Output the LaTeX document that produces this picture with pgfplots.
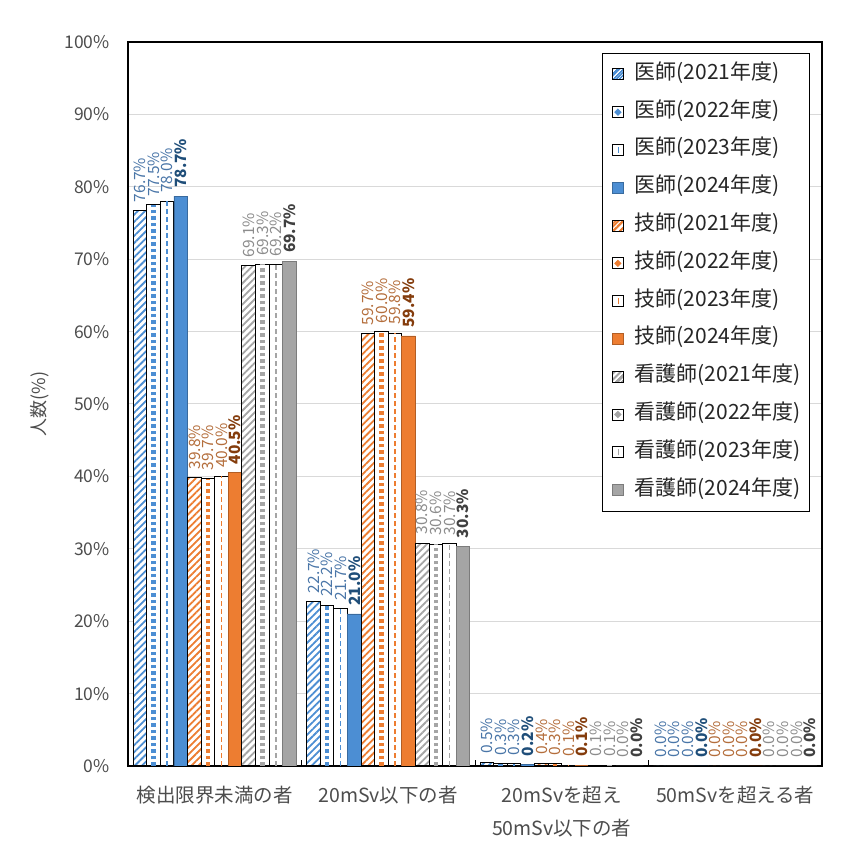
\documentclass[border=0pt]{standalone}
\usepackage{fontspec}
\setmainfont{Noto Sans CJK JP}
\usepackage{pgfplots}
\pgfplotsset{compat=1.18}
\usetikzlibrary{patterns,patterns.meta}

\definecolor{cB}{HTML}{4C8ED3}
\definecolor{cO}{HTML}{ED7D31}
\definecolor{cG}{HTML}{A5A5A5}
\definecolor{tB}{HTML}{4A76A8}
\definecolor{tBb}{HTML}{1F4E79}
\definecolor{tO}{HTML}{B46E3C}
\definecolor{tOb}{HTML}{843C0C}
\definecolor{tG}{HTML}{8C8C8C}
\definecolor{tGb}{HTML}{404040}
\definecolor{gridc}{HTML}{D9D9D9}
\definecolor{tickc}{HTML}{4D4D4D}

\newcommand\lblfont{\fontsize{15.5}{15.5}\selectfont}

\pgfplotsset{
  /pgf/number format/assume math mode=true,
  lbl/.style n args={3}{
    nodes near coords={\pgfmathprintnumber[fixed,fixed zerofill,precision=1]{\pgfplotspointmeta}\%},
    every node near coord/.append style={xshift=#3,rotate=90,anchor=west,font=#2,text=#1,inner xsep=8pt,inner ysep=0pt}},
  bar/.style={ybar, bar width=13.6pt, bar shift=#1},
  s21/.style={draw=black, line width=1pt, fill=white,
    postaction={pattern={Lines[angle=45,distance=5pt,line width=1.8pt]}, pattern color=#1},
    legend image code/.code={\draw[black,line width=0.8pt,fill=white,postaction={pattern={Lines[angle=45,distance=4pt,line width=1.5pt]}, pattern color=#1}] (0pt,-5.5pt) rectangle (11pt,5.5pt); \path (22pt,0pt);}},
  s22/.style={draw=black, line width=1pt, fill=white,
    legend image code/.code={\draw[black,line width=0.8pt,fill=white] (0pt,-5.5pt) rectangle (11pt,5.5pt);
      \fill[#1] (5.5pt,-3pt) -- (8.5pt,0pt) -- (5.5pt,3pt) -- (2.5pt,0pt) -- cycle; \path (22pt,0pt);}},
  s23/.style={draw=black, line width=1pt, fill=white,
    legend image code/.code={\draw[black,line width=0.8pt,fill=white] (0pt,-5.5pt) rectangle (11pt,5.5pt);
      \draw[#1,line width=1.5pt] (6pt,-3pt) -- (6pt,3pt); \path (22pt,0pt);}},
  s24/.style={draw=#1!75!black, line width=0.8pt, fill=#1,
    legend image code/.code={\draw[#1!75!black,line width=0.8pt,fill=#1] (0pt,-5.5pt) rectangle (11pt,5.5pt); \path (22pt,0pt);}},
  dia/.style 2 args={ycomb, forget plot, draw=#1, line width=4.5pt, dash pattern=on 3.5pt off 3pt, xshift=#2},
  dsh/.style 2 args={ycomb, forget plot, draw=#1, line width=1.5pt, dash pattern=on 5pt off 3pt, xshift=#2},
}

\begin{document}
\begin{tikzpicture}
\path[use as bounding box] (0,0) rectangle (849pt,851pt);
\begin{axis}[
  at={(128pt,85pt)}, anchor=south west,
  scale only axis, width=694pt, height=724pt,
  xmin=-0.5, xmax=3.5, ymin=0, ymax=100,
  xtick={0,1,2,3},
  xticklabels={検出限界未満の者, 20mSv以下の者, {20mSvを超え\\50mSv以下の者}, 50mSvを超える者},
  xticklabel style={font=\fontsize{19.5}{33}\selectfont, text=tickc, align=center, anchor=north, inner sep=0pt, yshift=-20pt},
  extra x ticks={0.5,1.5,2.5},
  extra x tick labels={},
  extra x tick style={major tick length=6pt, tick style={draw=black, line width=1pt}},
  ytick={0,10,...,100},
  yticklabel={\pgfmathprintnumber{\tick}\%},
  yticklabel style={font=\fontsize{17.5}{17.5}\selectfont, text=tickc, inner sep=0pt, xshift=-18pt},
  tick pos=left,
  major tick length=0pt,
  ymajorgrids, grid style={gridc, line width=1pt},
  axis line style={black, line width=1.2pt},
  ylabel={人数(\%)},
  every axis y label/.style={at={(axis description cs:-0.127,0.5)}, rotate=90, anchor=center, font=\fontsize{18}{18}\selectfont, text=tickc},
  legend cell align=left,
  legend style={at={(0.983,0.985)}, anchor=north east, draw=black, line width=1pt, inner xsep=9pt, inner ysep=12pt, row sep=19.8pt,
    font=\fontsize{21}{21}\selectfont, text=black!85, nodes={inner sep=0pt, text height=14pt, text depth=4pt}},
]
% 医師
\addplot[bar=-74.8pt, s21=cB, lbl={tB}{\lblfont}{-74.8pt}] coordinates {(0,76.7) (1,22.7) (2,0.5) (3,0.0)};
\addlegendentry{医師(2021年度)}
\addplot[bar=-61.2pt, s22=cB, lbl={tB}{\lblfont}{-61.2pt}] coordinates {(0,77.5) (1,22.2) (2,0.3) (3,0.0)};
\addlegendentry{医師(2022年度)}
\addplot[bar=-47.6pt, s23=cB, lbl={tB}{\lblfont}{-47.6pt}] coordinates {(0,78.0) (1,21.7) (2,0.3) (3,0.0)};
\addlegendentry{医師(2023年度)}
\addplot[bar=-34pt, s24=cB, lbl={tBb}{\lblfont\bfseries}{-34pt}] coordinates {(0,78.7) (1,21.0) (2,0.2) (3,0.0)};
\addlegendentry{医師(2024年度)}
% 技師
\addplot[bar=-20.4pt, s21=cO, lbl={tO}{\lblfont}{-20.4pt}] coordinates {(0,39.8) (1,59.7) (2,0.4) (3,0.0)};
\addlegendentry{技師(2021年度)}
\addplot[bar=-6.8pt, s22=cO, lbl={tO}{\lblfont}{-6.8pt}] coordinates {(0,39.7) (1,60.0) (2,0.3) (3,0.0)};
\addlegendentry{技師(2022年度)}
\addplot[bar=6.8pt, s23=cO, lbl={tO}{\lblfont}{6.8pt}] coordinates {(0,40.0) (1,59.8) (2,0.1) (3,0.0)};
\addlegendentry{技師(2023年度)}
\addplot[bar=20.4pt, s24=cO, lbl={tOb}{\lblfont\bfseries}{20.4pt}] coordinates {(0,40.5) (1,59.4) (2,0.1) (3,0.0)};
\addlegendentry{技師(2024年度)}
% 看護師
\addplot[bar=34pt, s21=cG, lbl={tG}{\lblfont}{34pt}] coordinates {(0,69.1) (1,30.8) (2,0.1) (3,0.0)};
\addlegendentry{看護師(2021年度)}
\addplot[bar=47.6pt, s22=cG, lbl={tG}{\lblfont}{47.6pt}] coordinates {(0,69.3) (1,30.6) (2,0.1) (3,0.0)};
\addlegendentry{看護師(2022年度)}
\addplot[bar=61.2pt, s23=cG, lbl={tG}{\lblfont}{61.2pt}] coordinates {(0,69.2) (1,30.7) (2,0.0) (3,0.0)};
\addlegendentry{看護師(2023年度)}
\addplot[bar=74.8pt, s24=cG, lbl={tGb}{\lblfont\bfseries}{74.8pt}] coordinates {(0,69.7) (1,30.3) (2,0.0) (3,0.0)};
\addlegendentry{看護師(2024年度)}
% pattern details
\addplot[dia={cB}{-61.2pt}] coordinates {(0,77.5) (1,22.2) (2,0.3)};
\addplot[dsh={cB}{-47.6pt}] coordinates {(0,78.0) (1,21.7) (2,0.3)};
\addplot[dia={cO}{-6.8pt}] coordinates {(0,39.7) (1,60.0) (2,0.3)};
\addplot[dsh={cO}{6.8pt}] coordinates {(0,40.0) (1,59.8) (2,0.1)};
\addplot[dia={cG}{47.6pt}] coordinates {(0,69.3) (1,30.6) (2,0.1)};
\addplot[dsh={cG}{61.2pt}] coordinates {(0,69.2) (1,30.7)};
\end{axis}
\end{tikzpicture}
\end{document}
